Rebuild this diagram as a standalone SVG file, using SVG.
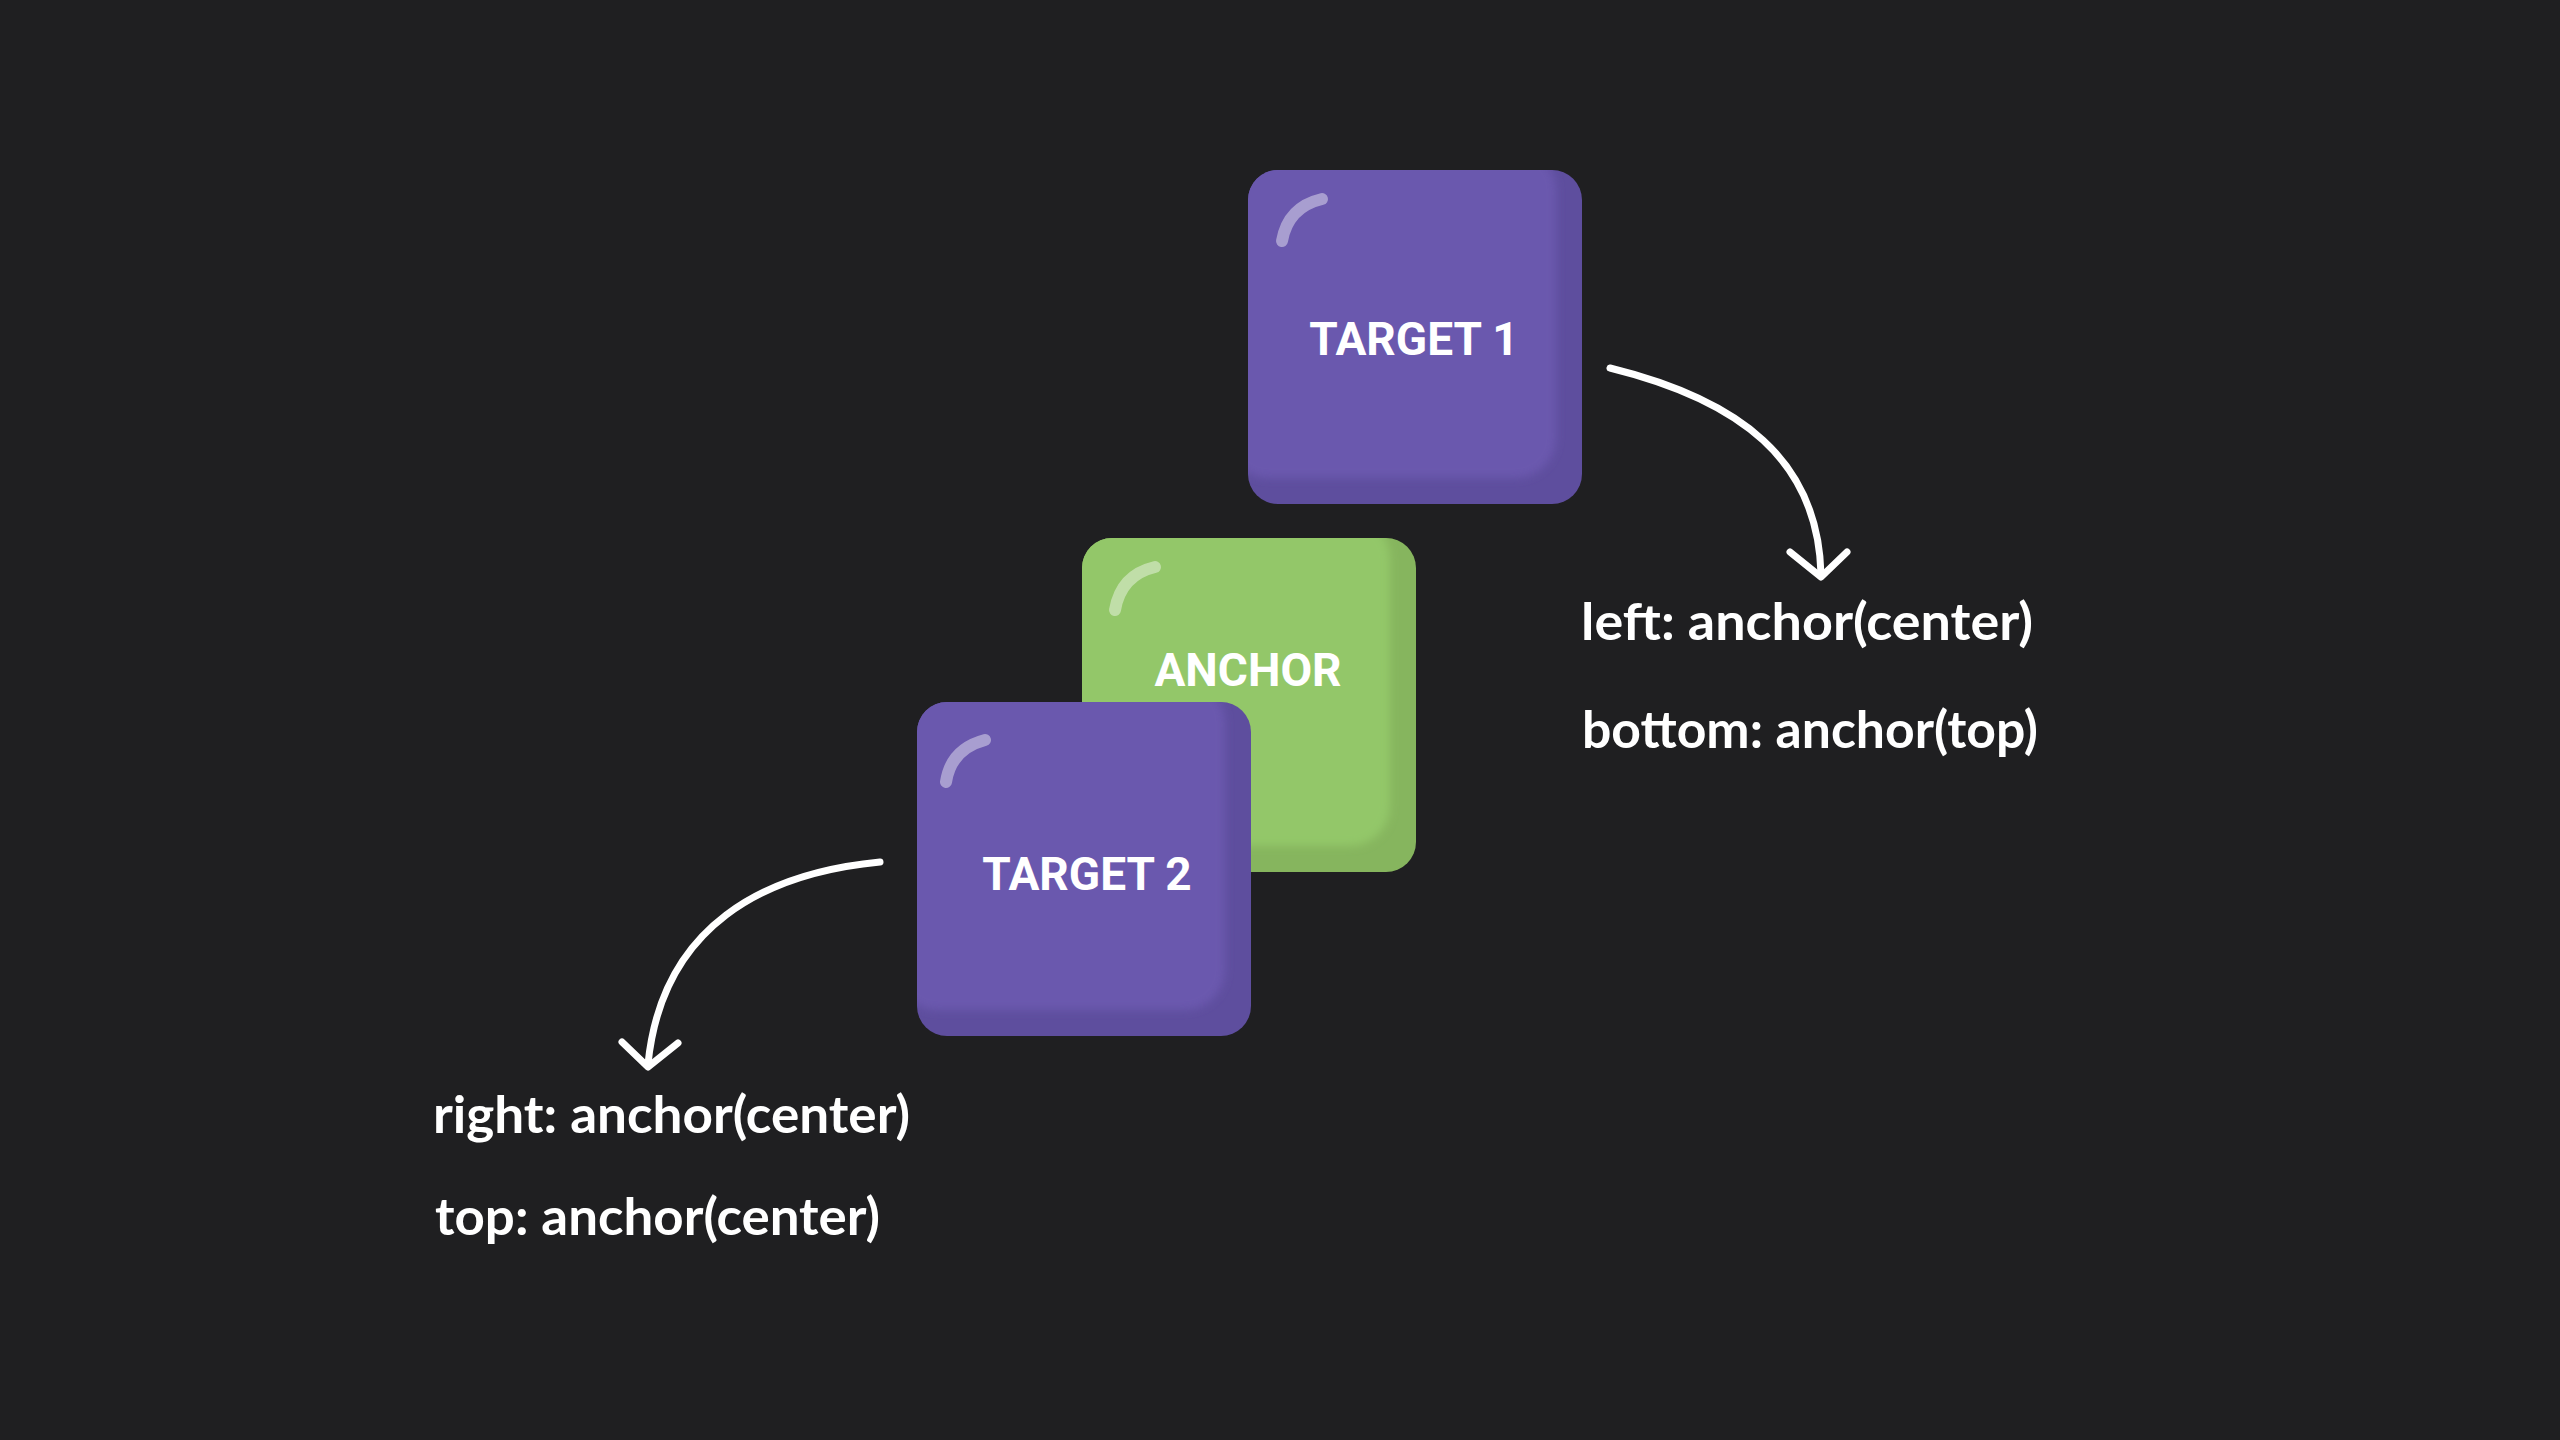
<svg xmlns="http://www.w3.org/2000/svg" width="2560" height="1440" viewBox="0 0 2560 1440">
  <defs>
    <style>
      .keytext { font-family: Roboto, "Liberation Sans", sans-serif; font-weight: 700; font-size: 46px; fill: #ffffff; text-anchor: middle; }
      .label { font-family: Lato, "DejaVu Sans", sans-serif; font-weight: 700; font-size: 52px; fill: #ffffff; }
      .conn { fill: none; stroke: #ffffff; stroke-width: 7; stroke-linecap: round; stroke-linejoin: round; }
      .shine { fill: none; stroke: #ffffff; stroke-opacity: 0.42; stroke-width: 12; stroke-linecap: round; }
      .purple-edge { fill: #5e4e9e; }
      .purple-face { fill: #6a58ae; }
      .green-edge { fill: #86b55e; }
      .green-face { fill: #93c769; }
    </style>
    <filter id="soft" x="-10%" y="-10%" width="120%" height="120%">
      <feGaussianBlur stdDeviation="4"/>
    </filter>
    <clipPath id="clipT1"><rect x="1248" y="170" width="334" height="334" rx="30"/></clipPath>
    <clipPath id="clipA"><rect x="1082" y="538" width="334" height="334" rx="30"/></clipPath>
    <clipPath id="clipT2"><rect x="917" y="702" width="334" height="334" rx="30"/></clipPath>
  </defs>

  <rect x="0" y="0" width="2560" height="1440" fill="#1f1f21"/>

  <g id="target1">
    <rect class="purple-edge" x="1248" y="170" width="334" height="334" rx="30"/>
    <g clip-path="url(#clipT1)">
      <rect class="purple-face" x="1228" y="150" width="328" height="328" rx="40" filter="url(#soft)"/>
    </g>
    <path class="shine" d="M1322,199 Q1288,207 1282,241"/>
    <text class="keytext" x="1414" y="355">TARGET 1</text>
  </g>

  <g id="anchor">
    <rect class="green-edge" x="1082" y="538" width="334" height="334" rx="30"/>
    <g clip-path="url(#clipA)">
      <rect class="green-face" x="1062" y="518" width="328" height="328" rx="40" filter="url(#soft)"/>
    </g>
    <path class="shine" d="M1155,567 Q1121,575 1115,610"/>
    <text class="keytext" x="1248" y="686">ANCHOR</text>
  </g>

  <g id="target2">
    <rect class="purple-edge" x="917" y="702" width="334" height="334" rx="30"/>
    <g clip-path="url(#clipT2)">
      <rect class="purple-face" x="897" y="682" width="328" height="328" rx="40" filter="url(#soft)"/>
    </g>
    <path class="shine" d="M985,740 Q951,749 946,782"/>
    <text class="keytext" x="1087" y="890">TARGET 2</text>
  </g>

  <g id="connectors">
    <path class="conn" d="M1610,368 C1740,400 1818,460 1821,574"/>
    <path class="conn" d="M1790,552 L1821,577 L1847,552"/>
    <path class="conn" d="M880,862 C765,873 662,925 648,1064"/>
    <path class="conn" d="M622,1042 L648,1067 L678,1043"/>
  </g>

  <g id="labels">
    <text class="label" x="1581" y="640" textLength="452" lengthAdjust="spacingAndGlyphs">left: anchor(center)</text>
    <text class="label" x="1582" y="748" textLength="456" lengthAdjust="spacingAndGlyphs">bottom: anchor(top)</text>
    <text class="label" x="433" y="1133" textLength="477" lengthAdjust="spacingAndGlyphs">right: anchor(center)</text>
    <text class="label" x="435" y="1235" textLength="445" lengthAdjust="spacingAndGlyphs">top: anchor(center)</text>
  </g>
</svg>
